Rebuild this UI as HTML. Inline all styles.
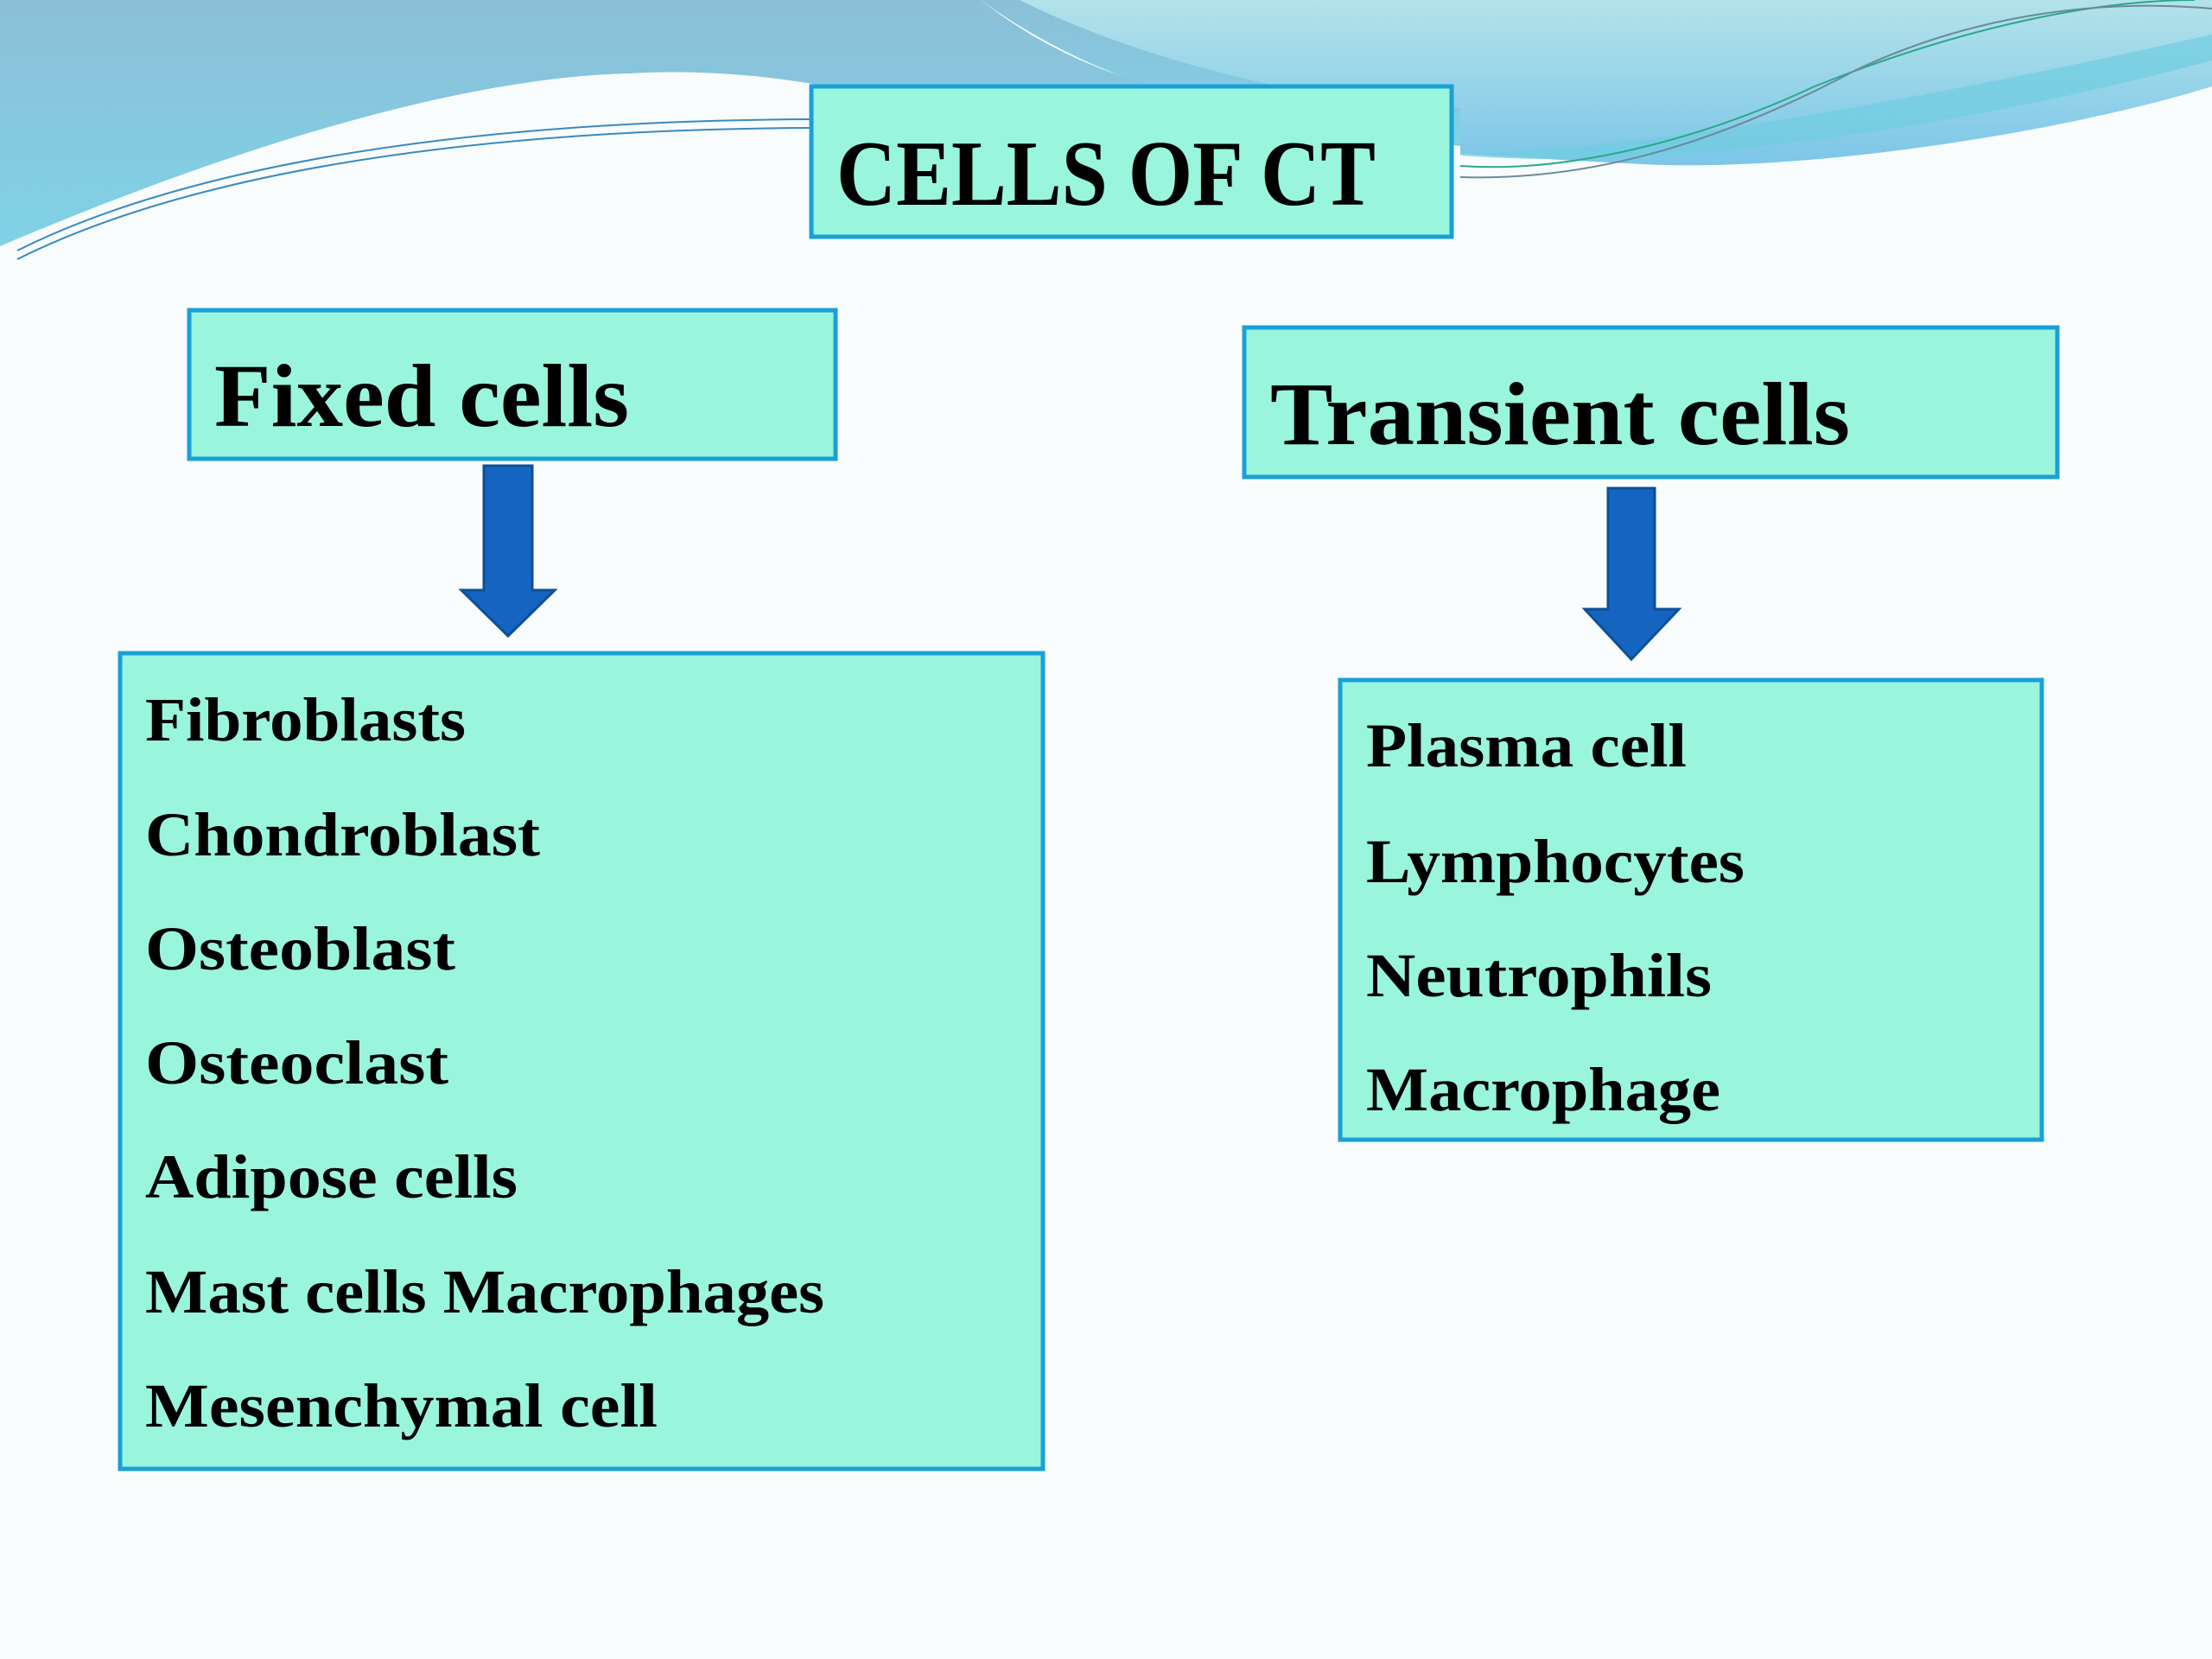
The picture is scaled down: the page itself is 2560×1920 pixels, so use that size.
<!DOCTYPE html>
<html><head><meta charset="utf-8"><style>html,body{margin:0;padding:0;background:#f8fcfc}svg{display:block}</style></head>
<body>
<svg width="2560" height="1920" viewBox="0 0 2560 1920" xmlns="http://www.w3.org/2000/svg">
<defs>
<linearGradient id="bg1" x1="0" y1="0" x2="0" y2="1"><stop offset="0" stop-color="#8cbfd8"/><stop offset="1" stop-color="#7fd2e6"/></linearGradient>
<linearGradient id="bg2" x1="0" y1="0" x2="0" y2="1"><stop offset="0" stop-color="#b3e2ea"/><stop offset="1" stop-color="#7cc6e8"/></linearGradient>
</defs>
<rect width="2560" height="1920" fill="#f8fcfc"/>
<!-- left/top blue -->
<path d="M0 0 H1135 C1300 120 1500 150 1700 170 L1700 0 Z" fill="url(#bg1)"/>
<path d="M0 0 H1135 C1250 90 1400 140 1690 130 L1700 100 L939 100 C900 90 820 80 730 85 C500 90 200 200 0 285 Z" fill="url(#bg1)"/>
<path d="M0 285 C200 200 500 90 730 85 C820 80 900 90 939 97 L939 300 L0 300 Z" fill="#f8fcfc"/>
<!-- right blue -->
<path d="M1180 0 H2560 V100 C2400 150 2100 200 1900 190 C1800 185 1720 180 1690 178 L1690 125 C1500 120 1300 60 1180 0 Z" fill="url(#bg2)"/>
<path d="M1690 178 C1900 175 2250 110 2560 40 V70 C2300 140 1950 200 1690 180 Z" fill="#6fcde0" opacity="0.7"/>
<path d="M1690 192 C1800 200 1950 170 2100 100 C2300 20 2450 0 2540 0" fill="none" stroke="#2aa88a" stroke-width="2"/>
<path d="M1690 205 C1850 210 2000 160 2150 80 C2300 10 2450 0 2560 10" fill="none" stroke="#6a8a9a" stroke-width="2"/>
<path d="M20 290 C200 200 500 140 939 138" fill="none" stroke="#3a8ac0" stroke-width="2"/>
<path d="M20 300 C200 210 500 150 939 148" fill="none" stroke="#3a8ac0" stroke-width="2"/>

<g fill="#99f5dc" stroke="#1aa0d8" stroke-width="5">
<rect x="939" y="100" width="741" height="174"/>
<rect x="219" y="359" width="748" height="172"/>
<rect x="1440" y="379" width="941" height="173"/>
<rect x="139" y="756" width="1068" height="944"/>
<rect x="1551" y="787" width="812" height="532"/>
</g>
<g fill="#1565c0" stroke="#0d4f9a" stroke-width="3">
<path d="M560 539 H616 V683 H642 L588 736 L534 683 H560 Z"/>
<path d="M1861 565 H1915 V705 H1943 L1888 763 L1834 705 H1861 Z"/>
</g>
<g font-family="'Liberation Serif',serif" font-weight="bold" fill="#000">
<text x="968" y="237" font-size="108" textLength="624" lengthAdjust="spacingAndGlyphs">CELLS  OF CT</text>
<text x="248" y="493" font-size="104" textLength="480" lengthAdjust="spacingAndGlyphs">Fixed cells</text>
<text x="1470" y="514" font-size="104" textLength="671" lengthAdjust="spacingAndGlyphs">Transient cells</text>
<g font-size="72">
<text x="168" y="857" textLength="371" lengthAdjust="spacingAndGlyphs">Fibroblasts</text>
<text x="168" y="990" textLength="457" lengthAdjust="spacingAndGlyphs">Chondroblast</text>
<text x="168" y="1122" textLength="359" lengthAdjust="spacingAndGlyphs">Osteoblast</text>
<text x="168" y="1254" textLength="351" lengthAdjust="spacingAndGlyphs">Osteoclast</text>
<text x="168" y="1386" textLength="431" lengthAdjust="spacingAndGlyphs">Adipose cells</text>
<text x="168" y="1519" textLength="786" lengthAdjust="spacingAndGlyphs">Mast cells Macrophages</text>
<text x="168" y="1651" textLength="593" lengthAdjust="spacingAndGlyphs">Mesenchymal cell</text>
<text x="1581" y="887" textLength="371" lengthAdjust="spacingAndGlyphs">Plasma cell</text>
<text x="1581" y="1021" textLength="438" lengthAdjust="spacingAndGlyphs">Lymphocytes</text>
<text x="1581" y="1153" textLength="400" lengthAdjust="spacingAndGlyphs">Neutrophils</text>
<text x="1581" y="1285" textLength="410" lengthAdjust="spacingAndGlyphs">Macrophage</text>
</g>
</g>
</svg>
</body></html>
